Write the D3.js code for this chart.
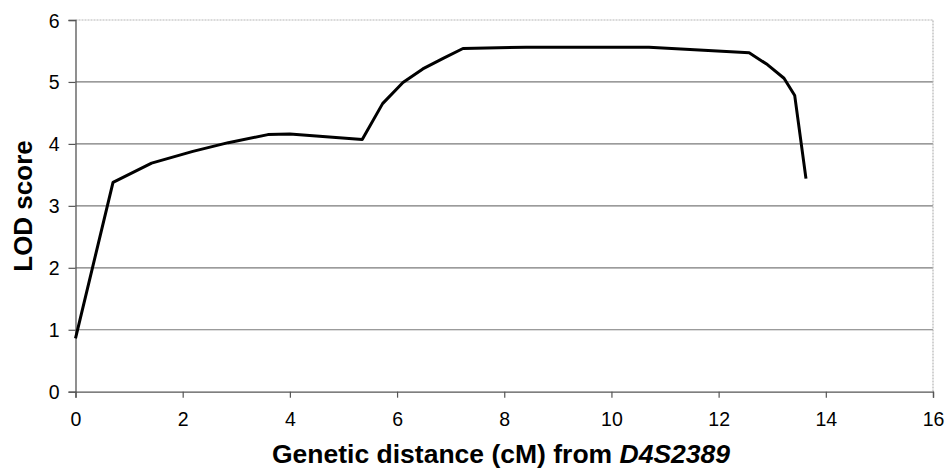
<!DOCTYPE html>
<html>
<head>
<meta charset="utf-8">
<script src="https://cdn.jsdelivr.net/npm/d3@7"></script>
<style>
  body { margin: 0; background: #fff; }
  text { font-family: "Liberation Sans", Arial, sans-serif; }
</style>
</head>
<body>
<svg id="chart" width="947" height="470"></svg>
<script>
// LOD score curve
const distance = [0, 0.70, 1.42, 2.19, 2.85, 3.59, 4.0, 5.35, 5.73, 6.11, 6.48, 6.86, 7.23, 8.41, 10.27, 10.7, 12.57, 12.91, 13.22, 13.42, 13.63];
const lod      = [0.86, 3.38, 3.69, 3.88, 4.02, 4.15, 4.16, 4.07, 4.65, 4.99, 5.21, 5.38, 5.54, 5.56, 5.56, 5.56, 5.47, 5.28, 5.06, 4.78, 3.44];
const xTicks = [0, 2, 4, 6, 8, 10, 12, 14, 16];
const yTicks = [0, 1, 2, 3, 4, 5, 6];

const svg = d3.select("#chart");
const m = {left: 75.5, right: 933, top: 20, bottom: 391.7};

const x = d3.scaleLinear().domain([0, 16]).range([m.left, m.right]);
const y = d3.scaleLinear().domain([0, 6]).range([m.bottom, m.top]);

// gridlines
svg.append("g").selectAll("line")
  .data(yTicks.filter(d => d > 0 && d < 6))
  .join("line")
    .attr("x1", m.left).attr("x2", m.right)
    .attr("y1", d => y(d)).attr("y2", d => y(d))
    .attr("stroke", "#7a7a7a").attr("stroke-width", 1.2);

// plot area border top/right (light dotted)
svg.append("path")
  .attr("d", `M${m.left},${y(6)}H${m.right}V${m.bottom}`)
  .attr("fill", "none")
  .attr("stroke", "#b5b5b5")
  .attr("stroke-width", 1.2)
  .attr("stroke-dasharray", "2,1");

// axes
const xAxis = svg.append("g")
  .attr("transform", `translate(0,${m.bottom})`)
  .call(d3.axisBottom(x).tickValues(xTicks).tickSize(6).tickPadding(14).tickFormat(d3.format("d")));
const yAxis = svg.append("g")
  .attr("transform", `translate(${m.left},0)`)
  .call(d3.axisLeft(y).tickValues(yTicks).tickSize(7).tickPadding(9).tickFormat(d3.format("d")));

[xAxis, yAxis].forEach(g => {
  g.select(".domain").attr("stroke", "#555").attr("stroke-width", 1.3);
  g.selectAll(".tick line").attr("stroke", "#555").attr("stroke-width", 1.2);
  g.selectAll(".tick text").attr("fill", "#000").style("font-size", "19.5px")
    .style("font-family", "'Liberation Sans', Arial, sans-serif");
});
yAxis.selectAll(".tick text").attr("dy", "0.36em");

// curve
svg.append("path")
  .datum(distance.map((d, i) => [d, lod[i]]))
  .attr("fill", "none")
  .attr("stroke", "#000")
  .attr("stroke-width", 3)
  .attr("stroke-linejoin", "round")
  .attr("d", d3.line().x(d => x(d[0])).y(d => y(d[1])));

// axis titles
svg.append("text")
  .attr("transform", `translate(32,206) rotate(-90)`)
  .attr("text-anchor", "middle")
  .style("font-size", "26px")
  .style("font-weight", "bold")
  .text("LOD score");

const xt = svg.append("text")
  .attr("x", 501).attr("y", 463)
  .attr("text-anchor", "middle")
  .style("font-size", "26.5px")
  .style("font-weight", "bold");
xt.append("tspan").text("Genetic distance (cM) from ");
xt.append("tspan").style("font-style", "italic").text("D4S2389");
</script>
</body>
</html>
